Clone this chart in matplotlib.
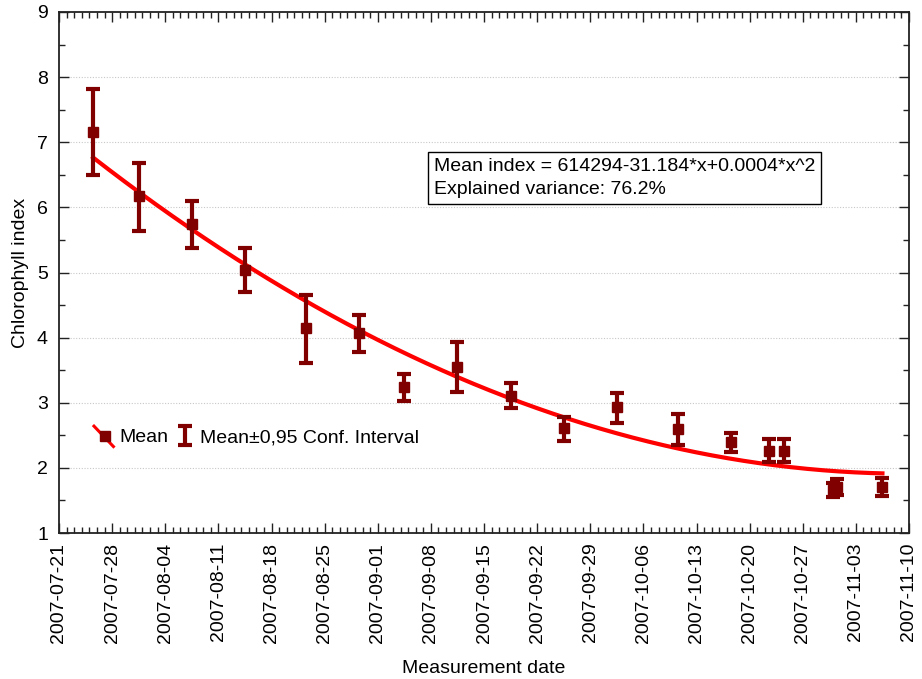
import matplotlib
matplotlib.use("Agg")

import matplotlib.dates as mdates
import matplotlib.pyplot as plt
import numpy as np
import pandas as pd
from matplotlib.legend_handler import HandlerBase
from matplotlib.lines import Line2D

plt.rcParams["font.family"] = ["Liberation Sans", "DejaVu Sans"]

# measurement dates (taken around midday)
dates = [
    "2007-07-25 12:00", "2007-07-31 12:00", "2007-08-07 12:00", "2007-08-14 12:00",
    "2007-08-22 12:00", "2007-08-29 12:00", "2007-09-04 12:00", "2007-09-11 12:00",
    "2007-09-18 12:00", "2007-09-25 12:00", "2007-10-02 12:00", "2007-10-10 12:00",
    "2007-10-17 12:00", "2007-10-22 12:00", "2007-10-24 12:00", "2007-10-31 00:00",
    "2007-10-31 12:00", "2007-11-06 12:00",
]
mean_index = [7.15, 6.17, 5.74, 5.04, 4.15, 4.07, 3.24, 3.55, 3.10,
              2.61, 2.93, 2.59, 2.39, 2.26, 2.26, 1.66, 1.70, 1.70]
ci_upper = [7.81, 6.68, 6.10, 5.38, 4.65, 4.35, 3.44, 3.93, 3.30,
            2.78, 3.15, 2.82, 2.53, 2.44, 2.44, 1.77, 1.83, 1.84]
ci_lower = [6.49, 5.64, 5.38, 4.70, 3.61, 3.78, 3.02, 3.16, 2.92,
            2.41, 2.69, 2.35, 2.24, 2.09, 2.09, 1.55, 1.58, 1.57]

# quadratic fit, x = days since 2007-07-21
fit_origin = "2007-07-21"
fit_coef = [7.18, -0.0942, 0.000421]

equation_text = "Mean index = 614294-31.184*x+0.0004*x^2\nExplained variance: 76.2%"

DARK_RED = "#800000"
FIT_RED = "#ff0000"
FS = 14


class DiagonalLineHandler(HandlerBase):
    def create_artists(self, legend, orig_handle, xdescent, ydescent,
                       width, height, fontsize, trans):
        x0, x1 = -xdescent, -xdescent + width
        y0, y1 = -ydescent - height * 0.3, -ydescent + height * 1.2
        seg = Line2D([x0, x1], [y1, y0], color=FIT_RED, lw=2.2, transform=trans)
        mk = Line2D([(x0 + x1) / 2 + 1], [(y0 + y1) / 2], marker="s", ms=7,
                    color=DARK_RED, ls="none", transform=trans)
        return [seg, mk]


def main() -> None:
    t = pd.to_datetime(dates)
    mean = np.array(mean_index)
    err = np.vstack([mean - np.array(ci_lower), np.array(ci_upper) - mean])

    fig = plt.figure(figsize=(9.22, 6.79), dpi=100)
    ax = fig.add_axes([59 / 922, 146 / 679, 850 / 922, 521 / 679])

    # fitted curve between first and last measurement
    origin = pd.Timestamp(fit_origin)
    days = (t - origin).total_seconds() / 86400.0
    d = np.linspace(days.min(), days.max(), 200)
    fit = fit_coef[0] + fit_coef[1] * d + fit_coef[2] * d ** 2
    ax.plot(origin + pd.to_timedelta(d, unit="D"), fit, color=FIT_RED, lw=3, zorder=2)

    ebar = ax.errorbar(t, mean, yerr=err, fmt="none", ecolor=DARK_RED, elinewidth=3,
                       capsize=5, capthick=3, zorder=3)
    ax.plot(t, mean, "s", color=DARK_RED, ms=7.5, zorder=4)

    ax.set_ylim(1, 9)
    ax.set_xlim(pd.Timestamp("2007-07-21"), pd.Timestamp("2007-11-10"))
    ax.set_yticks(np.arange(1, 10, 1))
    ax.set_yticks(np.arange(1.5, 9, 1), minor=True)
    ax.xaxis.set_major_locator(mdates.WeekdayLocator(byweekday=mdates.SA))
    ax.xaxis.set_minor_locator(mdates.DayLocator())
    ax.xaxis.set_major_formatter(mdates.DateFormatter("%Y-%m-%d"))
    for lab in ax.get_xticklabels():
        lab.set_rotation(90)

    ax.tick_params(which="both", direction="in", top=True, right=True,
                   labelsize=FS, width=1, color="#222222")
    ax.tick_params(which="major", length=7, pad=7)
    ax.tick_params(which="minor", length=4)
    ax.tick_params(axis="y", which="major", pad=8)
    for sp in ax.spines.values():
        sp.set_linewidth(1.3)
        sp.set_color("#222222")

    for y in range(2, 9):
        ax.axhline(y, color="#c8c8c8", lw=0.8, ls=(0, (1, 1.5)), zorder=1)

    ax.set_xlabel("Measurement date", fontsize=FS, labelpad=12)
    ax.set_ylabel("Chlorophyll index", fontsize=FS, labelpad=6)

    ax.text(0.441, 0.72, equation_text, transform=ax.transAxes, fontsize=FS,
            va="top", ha="left", linespacing=1.45,
            bbox=dict(boxstyle="square,pad=0.3", fc="white", ec="black", lw=1))

    mean_handle = Line2D([], [], color=FIT_RED)
    ax.legend([mean_handle, ebar], ["Mean", "Mean\u00b10,95 Conf. Interval"],
              handler_map={Line2D: DiagonalLineHandler()},
              loc="center left", bbox_to_anchor=(0.032, 0.183), frameon=False,
              ncol=2, fontsize=FS, handlelength=1.0, handletextpad=0.3,
              columnspacing=0.35, borderaxespad=0)

    fig.savefig("out.png", dpi=100)
    plt.close(fig)


if __name__ == "__main__":
    main()
